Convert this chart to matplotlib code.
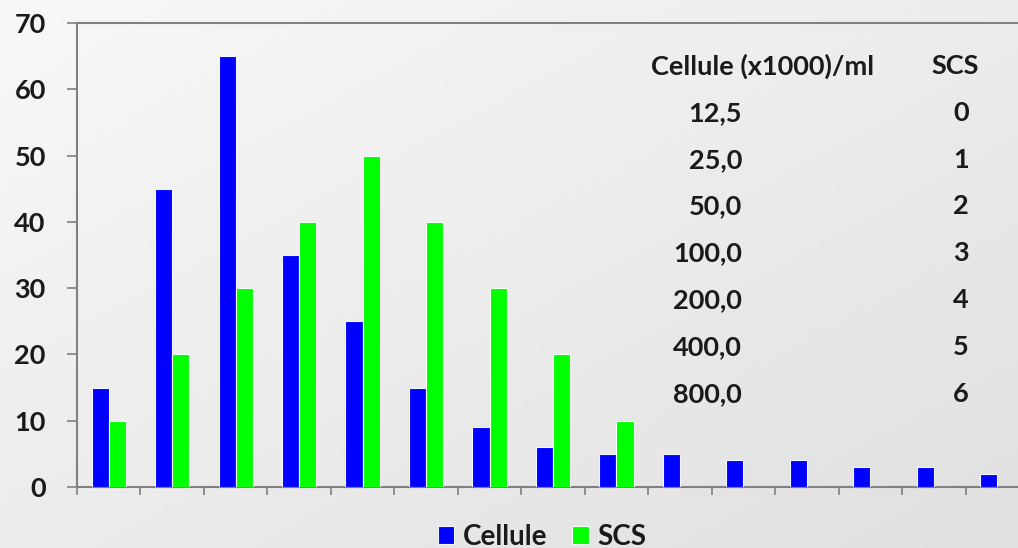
import matplotlib
matplotlib.use("Agg")
import matplotlib.pyplot as plt
import numpy as np

# Data
categories = list(range(1, 16))
cellule = [15, 45, 65, 35, 25, 15, 9, 6, 5, 5, 4, 4, 3, 3, 2]
scs = [10, 20, 30, 40, 50, 40, 30, 20, 10, 0, 0, 0, 0, 0, 0]
yticks = [0, 10, 20, 30, 40, 50, 60, 70]
table_header = ["Cellule (x1000)/ml", "SCS"]
table_cells = ["12,5", "25,0", "50,0", "100,0", "200,0", "400,0", "800,0"]
table_scs = ["0", "1", "2", "3", "4", "5", "6"]

FONT = "Lato"
TXT = "#1a1a1a"
W, H = 1018, 548
fig = plt.figure(figsize=(W / 100, H / 100), dpi=100)
fig.patch.set_facecolor("#ebebeb")

# background gradient
bg = fig.add_axes([0, 0, 1, 1], zorder=-10)
xx = np.linspace(0, 1, 200)
yy = np.linspace(0, 1, 100)
X, Y = np.meshgrid(xx, yy)
grad = 0.5 * X + 0.5 * Y
bg.imshow(grad, cmap=matplotlib.colors.LinearSegmentedColormap.from_list(
    "g", ["#f8f8f8", "#e0e0e0"]), aspect="auto", extent=[0, 1, 0, 1], origin="upper")
bg.axis("off")

ax = fig.add_axes([77 / W, 1 - 487 / H, 952 / W, (487 - 23) / H])
ax.set_facecolor("none")

x = np.arange(len(categories))
bw = 0.27
ax.bar(x - bw / 2, cellule, width=bw, color="#0000ff", edgecolor="#f4f4ff", linewidth=0.8, label="Cellule", zorder=3)
ax.bar(x + bw / 2, scs, width=bw, color="#00ff00", edgecolor="#f4fff4", linewidth=0.8, label="SCS", zorder=3)

ax.set_xlim(-0.5, len(categories) - 0.5)
ax.set_ylim(0, 70)
ax.set_yticks(yticks)
ax.set_yticklabels([str(v) for v in yticks], fontsize=19.5, fontweight="bold", family=FONT, color=TXT)
ax.set_xticks(np.arange(-0.5, len(categories) + 0.5, 1))
ax.set_xticklabels([])
ax.tick_params(axis="y", direction="out", length=7.5, width=1.2, color="#808080", pad=15)
ax.tick_params(axis="x", direction="out", length=6, width=1.2, color="#808080")
for s in ["left", "bottom", "top"]:
    ax.spines[s].set_color("#808080")
    ax.spines[s].set_linewidth(1.5)
ax.spines["right"].set_visible(False)

def fx(px):
    return px / W
def fy(py):
    return 1 - py / H

TS = 19.5
fig.text(fx(763), fy(66), table_header[0], ha="center", va="center", fontsize=TS,
         fontweight="bold", family=FONT, color=TXT)
fig.text(fx(955), fy(66), table_header[1], ha="center", va="center", fontsize=TS,
         fontweight="bold", family=FONT, color=TXT)
row_y = [113, 160, 206, 253, 300, 347, 394]
for yv, c, s in zip(row_y, table_cells, table_scs):
    fig.text(fx(742), fy(yv), c, ha="right", va="center", fontsize=TS,
             fontweight="bold", family=FONT, color=TXT)
    fig.text(fx(969), fy(yv), s, ha="right", va="center", fontsize=TS,
             fontweight="bold", family=FONT, color=TXT)

leg = fig.legend(loc="center", bbox_to_anchor=(fx(542), fy(537)), ncol=2, frameon=False,
                 prop={"family": FONT, "weight": "bold", "size": 20},
                 handlelength=0.6, handleheight=0.6, handletextpad=0.3, columnspacing=0.9,
                 borderpad=0, borderaxespad=0)
for t in leg.get_texts():
    t.set_color(TXT)

fig.savefig("out.png", dpi=100, facecolor=fig.get_facecolor())
